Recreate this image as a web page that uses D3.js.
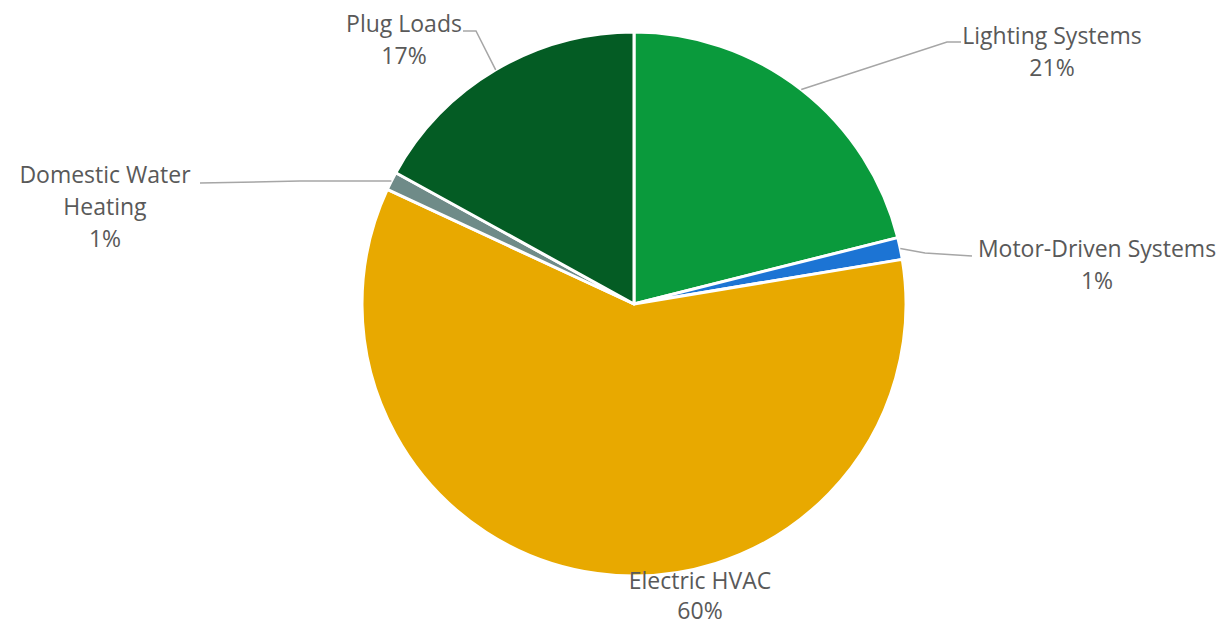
<!DOCTYPE html>
<html>
<head>
<meta charset="utf-8">
<script src="https://cdn.jsdelivr.net/npm/d3@7"></script>
<style>
  body { margin: 0; background: #fff; }
  text { font-family: "Open Sans", "Noto Sans", sans-serif; fill: #595959; }
</style>
</head>
<body>
<script>
// data (clockwise from 12 o'clock)
const categories = ["Lighting Systems", "Motor-Driven Systems", "Electric HVAC", "Domestic Water Heating", "Plug Loads"];
const shares = [21.1, 1.3, 59.6, 1.1, 17.0];
const pctLabels = ["21%", "1%", "60%", "1%", "17%"];
const colors = ["#0a9a3c", "#1c74d4", "#e8a900", "#6f8b88", "#045c24"];

// label layout: text lines, centre of first line, leader elbow/end
const labelLines = [
  ["Lighting Systems", "21%"],
  ["Motor-Driven Systems", "1%"],
  ["Electric HVAC", "60%"],
  ["Domestic Water", "Heating", "1%"],
  ["Plug Loads", "17%"]
];
const labelPos = [[1052, 36], [1097, 249], [700, 581], [105, 175], [404, 24]];
const leaders = [
  [[947, 42], [961, 42]],
  [[925, 253], [972, 256]],
  null,
  [[300, 181], [200, 183]],
  [[476, 31], [463, 31]]
];

const width = 1224, height = 626;
const cx = 634, cy = 304, radius = 272;
const lineH = 32;

const svg = d3.select("body").append("svg")
    .attr("width", width)
    .attr("height", height);

const g = svg.append("g")
    .attr("transform", "translate(" + cx + "," + cy + ")");

const pie = d3.pie().sort(null).value(d => d);
const arcs = pie(shares);
const arc = d3.arc().innerRadius(0).outerRadius(radius);

g.selectAll("path.slice")
    .data(arcs)
    .enter().append("path")
    .attr("class", "slice")
    .attr("d", arc)
    .attr("fill", (d, i) => colors[i])
    .attr("stroke", "#fff")
    .attr("stroke-width", 3)
    .attr("stroke-linejoin", "round");

// leader lines start on the rim at the slice's middle angle
arcs.forEach((d, i) => {
  if (!leaders[i]) return;
  const a = (d.startAngle + d.endAngle) / 2;
  const p0 = [cx + radius * Math.sin(a), cy - radius * Math.cos(a)];
  const pts = [p0].concat(leaders[i]);
  svg.append("path")
      .attr("d", d3.line()(pts))
      .attr("fill", "none")
      .attr("stroke", "#a6a6a6")
      .attr("stroke-width", 1.5);
});

// labels
labelLines.forEach((lines, i) => {
  const t = svg.append("text")
      .attr("text-anchor", "middle")
      .attr("font-size", 23);
  lines.forEach((s, j) => {
    t.append("tspan")
        .attr("x", labelPos[i][0])
        .attr("y", labelPos[i][1] + j * (i === 2 ? 30 : lineH))
        .attr("dy", "0.35em")
        .text(s);
  });
});
</script>
</body>
</html>
